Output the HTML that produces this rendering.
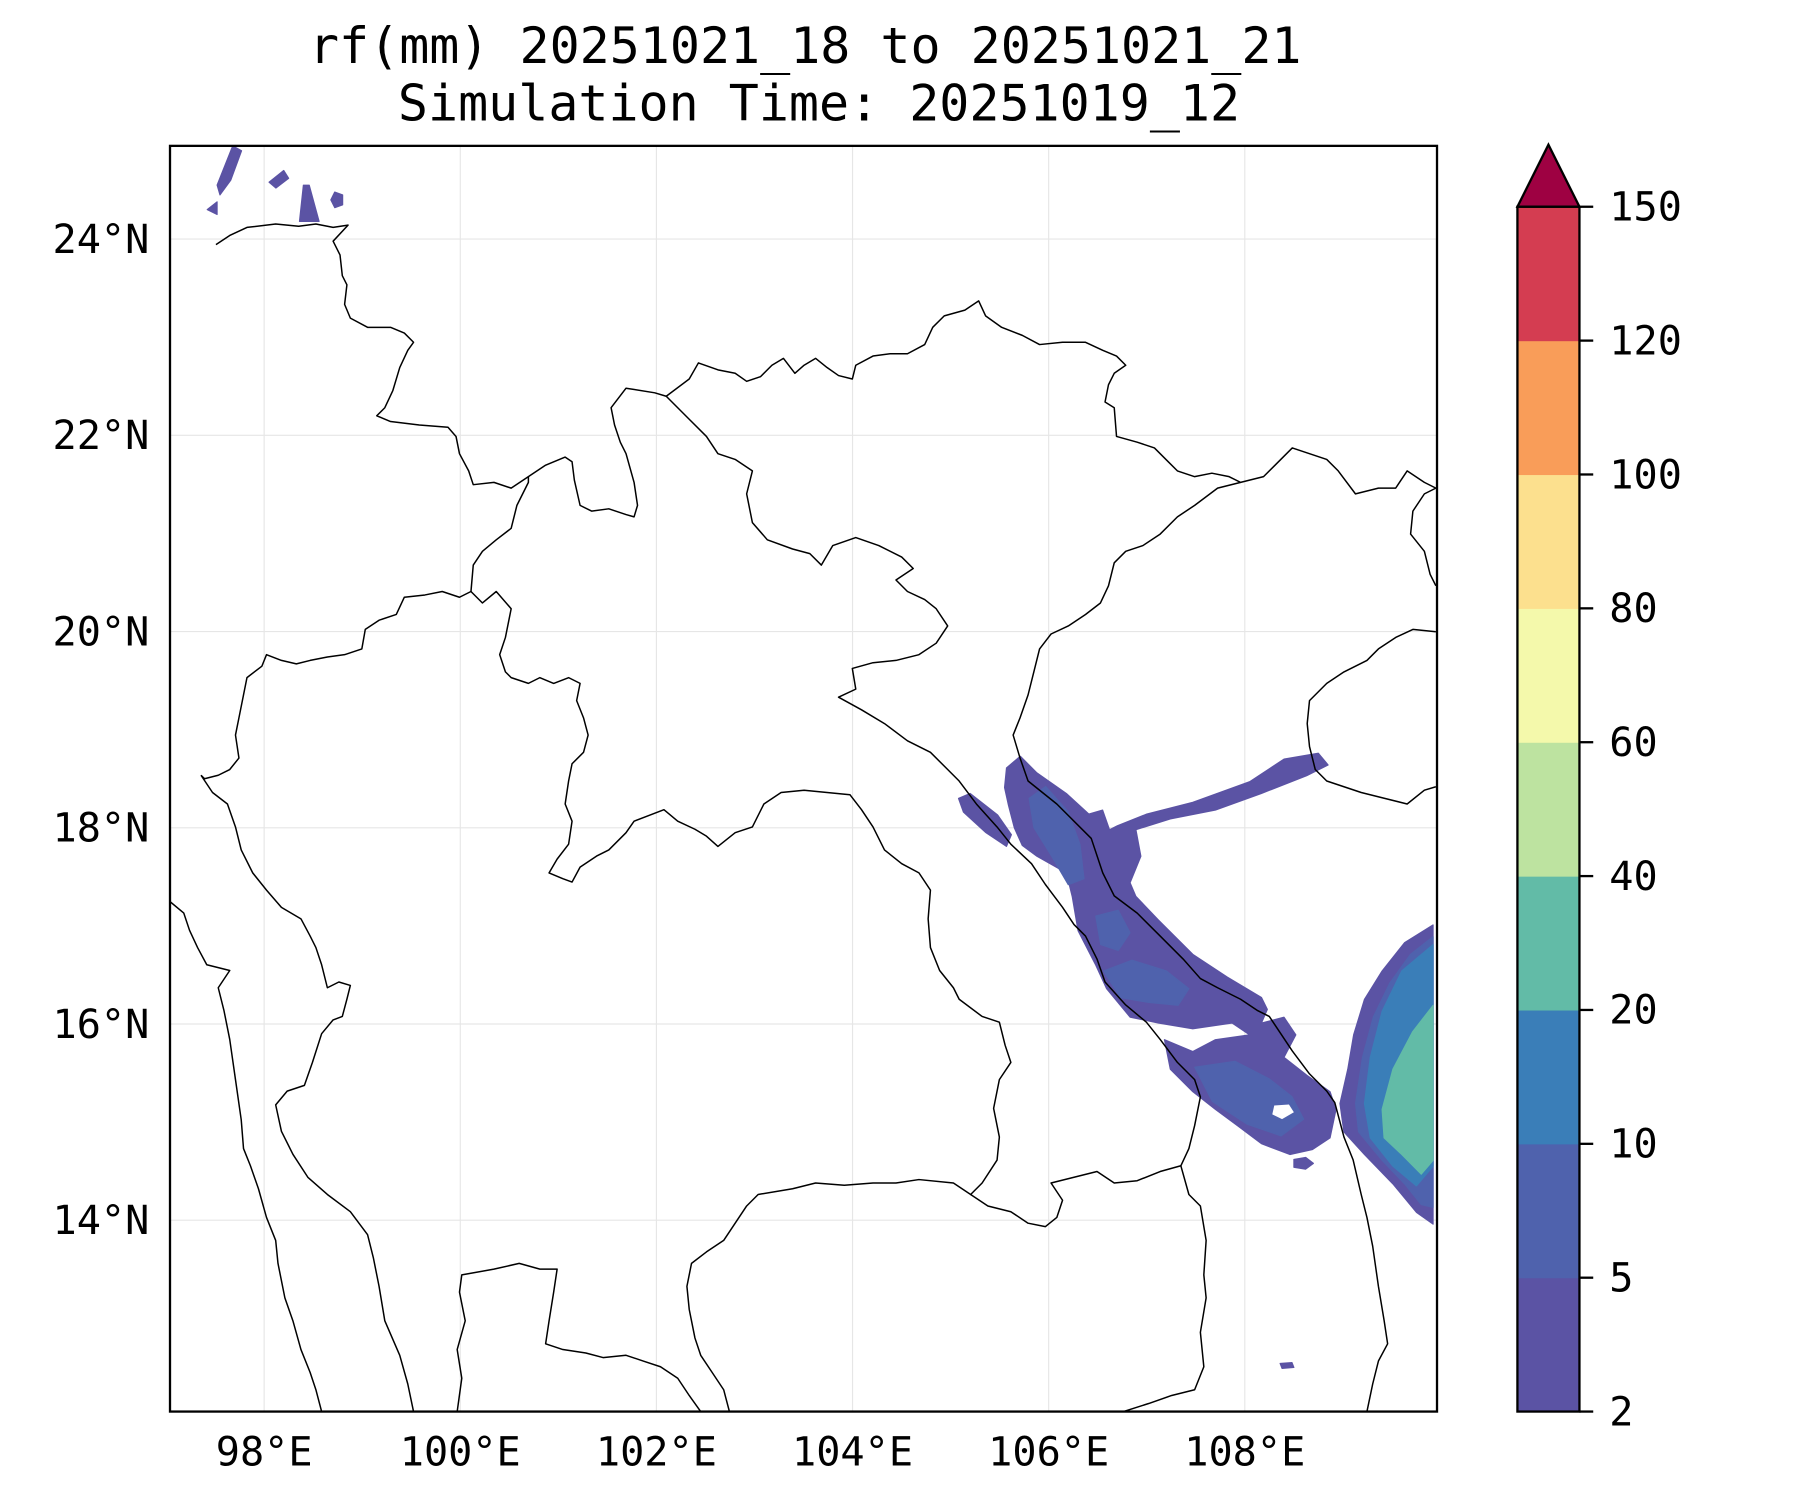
<!DOCTYPE html>
<html><head><meta charset="utf-8"><title>rf(mm)</title>
<style>html,body{margin:0;padding:0;background:#fff}svg{display:block}text{font-family:"DejaVu Sans Mono","Liberation Mono",monospace;fill:#000}</style>
</head><body>
<svg id="fig" width="1800" height="1500" viewBox="0 0 1567 1306" preserveAspectRatio="none" xmlns="http://www.w3.org/2000/svg">
<rect width="1567" height="1306" fill="#fff"/>
<text x="701" y="55" font-size="43.5" text-anchor="middle">rf(mm) 20251021_18 to 20251021_21</text>
<text x="713" y="105" font-size="43.5" text-anchor="middle">Simulation Time: 20251019_12</text>
<defs><clipPath id="mapclip"><rect x="148" y="127" width="1103" height="1102"/></clipPath></defs>
<g id="grid"></g>
<g id="rain" clip-path="url(#mapclip)"></g>
<g id="geo" clip-path="url(#mapclip)" fill="none" stroke="#000" stroke-width="1.3" stroke-linejoin="round">
<polyline points="188,213 200,205 215,198 240,195 260,197 275,195 290,198 303,196 290,210 296,222 298,240 302,248 300,265 305,277 320,285 340,285 352,290 360,298 355,305 348,320 342,340 335,355 328,362 340,367 365,370 390,372 397,380 400,395 408,410 412,422 430,420 445,425 460,415 475,405 492,398 498,402 500,418 505,440 515,445 530,443 545,448 552,450 555,440 552,420 545,395 540,385 535,370 532,355 545,338 570,342 580,345 600,330 608,316 625,322 640,325 650,332 662,328 672,318 682,312 692,325 700,318 710,312 720,320 730,327 742,330 745,318 760,310 775,308 790,308 805,300 812,285 822,275 840,270 852,262 858,275 872,285 890,292 905,300 925,298 945,298 960,305 972,310 980,318 970,325 965,335 962,350 970,355 972,380 990,385 1005,390 1015,400 1025,410 1040,415 1055,412 1070,415 1080,420 1100,415 1110,405 1125,390 1140,395 1155,400 1165,410 1180,430 1200,425 1215,425 1225,410 1240,420 1250,425"/>
<polyline points="1080,420 1060,425 1040,440 1025,450 1010,465 995,475 980,480 970,490 965,510 958,525 945,535 930,545 915,552 905,565 900,585 895,605 888,625 882,640 888,660 895,680 920,700 950,730 960,760 970,780 990,795 1010,815 1030,835 1045,852 1060,860 1080,870 1095,880 1105,885 1115,900 1125,915 1140,935 1155,950 1162,960 1170,990 1178,1010 1185,1040 1190,1060 1195,1085 1200,1120 1205,1150 1208,1170 1200,1185 1195,1205 1190,1229"/>
<polyline points="580,345 600,365 615,380 625,395 640,400 655,410 650,430 655,455 668,470 690,478 705,482 715,492 725,475 745,468 765,475 785,485 795,495 780,505 790,515 805,522 815,530 825,545 815,560 800,570 780,575 760,577 742,582 745,600 730,607 750,618 770,630 790,645 810,655 825,670 835,680 850,700 868,720 880,735 898,752 910,770 925,790 935,805 945,815 955,835 962,855 980,875 998,890 1010,905 1025,925 1040,940 1045,955 1040,980 1035,1000 1028,1015 1035,1040 1045,1050 1050,1080 1048,1110 1050,1130 1045,1160 1048,1190 1040,1210 1020,1215 1000,1222 978,1229"/>
<polyline points="460,415 460,420 450,440 445,460 432,470 420,480 412,492 410,515"/>
<polyline points="410,515 400,520 385,515 370,518 352,520 345,535 330,540 318,548 315,565 300,570 285,572 270,575 258,578 245,575 232,570 228,580 215,590 212,605 208,625 205,640 208,660 200,670 190,675 178,678 175,675"/>
<polyline points="410,515 420,525 432,515 445,530 440,555 435,570 440,585 445,590 460,595 470,590 482,595 495,590 505,595 502,610 508,625 512,640 508,655 498,665 495,680 492,700 498,715 495,735 485,748 478,760 490,765 498,768 505,755 520,745 530,740 545,725 552,715 565,710 578,705 590,715 605,722 615,728 625,737 640,725 655,720 665,700 680,690 700,688 720,690 740,692 750,705 760,720 770,740 785,752 800,760 810,775 808,800 810,825 818,845 830,860 835,870 855,885 870,890 875,910 880,925 870,940 865,965 870,990 868,1010 855,1030 845,1040 830,1030 800,1027 780,1030 760,1030 735,1032 710,1030 690,1035 660,1040 650,1050 640,1065 630,1080 615,1090 602,1100 598,1120 600,1140 605,1165 610,1180 620,1195 630,1210 635,1229"/>
<polyline points="845,1040 860,1050 880,1055 895,1065 910,1068 920,1060 925,1045 915,1030 935,1025 955,1020 970,1030 990,1028 1010,1020 1028,1015"/>
<polyline points="175,675 185,690 198,700 205,720 210,740 220,760 232,775 245,790 262,800 270,815 275,825 280,840 285,860 295,855 305,858 302,870 298,885 290,888 280,900 272,925 265,945 250,950 240,962 245,985 255,1005 268,1025 285,1040 305,1055 320,1075 325,1095 330,1120 335,1150 348,1180 355,1205 360,1229"/>
<polyline points="148,785 160,795 165,810 172,825 180,840 200,845 190,860 195,880 200,905 205,940 210,975 212,1000 218,1015 225,1035 232,1060 240,1080 242,1100 248,1130 255,1150 262,1175 270,1195 275,1210 280,1229"/>
<polyline points="398,1229 402,1200 398,1175 405,1150 400,1125 402,1110 430,1105 452,1100 470,1105 485,1105 482,1125 478,1150 475,1170 490,1175 510,1178 525,1182 545,1180 560,1185 575,1190 590,1200 600,1215 610,1229"/>
<polyline points="1250,550 1230,548 1215,555 1200,565 1190,575 1170,585 1155,595 1140,610 1138,630 1140,650 1145,670 1155,680 1170,685 1185,690 1205,695 1225,700 1240,688 1250,685"/>
<polyline points="1250,425 1240,430 1230,445 1228,465 1240,480 1245,500 1250,510"/>
</g>
<rect x="148" y="127" width="1103" height="1102" fill="none" stroke="#000" stroke-width="2"/>
<g id="axes"></g>
<g id="cbar"></g>
</svg>
<script>
const NS = "http://www.w3.org/2000/svg";
// map extent
const lonMin = 97.04, lonMax = 109.96, latMin = 12.05, latMax = 24.95;
const lonTicks = [98, 100, 102, 104, 106, 108];
const lonTickLabels = ["98°E", "100°E", "102°E", "104°E", "106°E", "108°E"];
const latTicks = [14, 16, 18, 20, 22, 24];
const latTickLabels = ["14°N", "16°N", "18°N", "20°N", "22°N", "24°N"];
// colorbar levels and colours
const levels = [2, 5, 10, 20, 40, 60, 80, 100, 120, 150];
const levelLabels = ["2", "5", "10", "20", "40", "60", "80", "100", "120", "150"];
const levelColors = ["#5b53a4", "#4f62ad", "#3a7eb8", "#62bba7", "#bde3a0", "#f4f9ab", "#fce08e", "#f99d59", "#d43d51"];
const extendColor = "#9e0142";
// rainfall contour polygons [lon, lat], with level index
const rainLevel = [0, 0, 0, 0, 0, 0, 0, 0, 0, 0, 1, 1, 1, 1, 1, 2, 3];
const rainPolys = [
 [[105.57,18.61],[105.71,18.73],[105.88,18.56],[106.18,18.35],[106.41,18.14],[106.55,18.18],[106.62,17.98],[106.70,18.02],[107.0,18.14],[107.47,18.26],[108.05,18.47],[108.40,18.70],[108.75,18.76],[108.85,18.64],[108.63,18.53],[108.17,18.35],[107.70,18.18],[107.24,18.09],[106.89,17.98],[106.94,17.71],[106.83,17.44],[106.89,17.30],[107.12,17.06],[107.47,16.71],[107.82,16.48],[108.17,16.27],[108.23,16.15],[108.17,16.01],[108.40,16.07],[108.52,15.89],[108.40,15.66],[108.63,15.48],[108.87,15.31],[108.93,15.13],[108.87,14.84],[108.69,14.72],[108.46,14.67],[108.17,14.78],[107.93,14.96],[107.70,15.13],[107.47,15.31],[107.24,15.54],[107.18,15.84],[107.47,15.72],[107.70,15.84],[108.05,15.89],[107.87,16.01],[107.47,15.95],[107.12,16.01],[106.83,16.07],[106.59,16.36],[106.48,16.60],[106.30,16.95],[106.24,17.30],[106.18,17.54],[105.88,17.71],[105.73,17.82],[105.65,18.00],[105.59,18.23],[105.55,18.41]],
 [[105.08,18.30],[105.20,18.35],[105.48,18.13],[105.62,17.93],[105.57,17.81],[105.36,17.95],[105.13,18.16]],
 [[109.92,17.01],[109.63,16.83],[109.40,16.54],[109.22,16.25],[109.11,15.89],[109.05,15.54],[108.97,15.19],[109.01,14.90],[109.22,14.67],[109.51,14.37],[109.75,14.08],[109.92,13.96]],
 [[108.50,14.62],[108.62,14.64],[108.70,14.58],[108.62,14.52],[108.50,14.54]],
 [[108.36,12.54],[108.48,12.55],[108.50,12.50],[108.38,12.49]],
 [[97.68,24.95],[97.77,24.90],[97.66,24.60],[97.55,24.45],[97.52,24.55]],
 [[98.40,24.55],[98.46,24.55],[98.56,24.18],[98.36,24.18]],
 [[98.72,24.48],[98.80,24.45],[98.80,24.35],[98.72,24.32],[98.68,24.40]],
 [[98.05,24.58],[98.20,24.70],[98.25,24.62],[98.12,24.52]],
 [[97.42,24.30],[97.52,24.38],[97.52,24.25]],
 [[105.80,18.30],[105.97,18.42],[106.20,18.16],[106.32,17.83],[106.36,17.48],[106.20,17.42],[106.03,17.71],[105.85,18.00]],
 [[106.56,16.54],[106.85,16.65],[107.20,16.54],[107.43,16.36],[107.32,16.19],[107.02,16.22],[106.73,16.27]],
 [[107.49,15.56],[107.90,15.62],[108.25,15.44],[108.48,15.26],[108.60,15.03],[108.37,14.86],[108.02,14.98],[107.67,15.21]],
 [[106.48,17.10],[106.71,17.16],[106.83,16.93],[106.71,16.75],[106.53,16.81]],
 [[109.92,16.89],[109.69,16.71],[109.48,16.42],[109.31,16.07],[109.20,15.66],[109.13,15.19],[109.16,14.90],[109.40,14.61],[109.63,14.37],[109.80,14.16],[109.92,14.13]],
 [[109.92,16.81],[109.60,16.54],[109.40,16.13],[109.28,15.66],[109.22,15.19],[109.28,14.84],[109.51,14.55],[109.75,14.35],[109.92,14.55]],
 [[109.92,16.19],[109.71,15.92],[109.51,15.54],[109.40,15.13],[109.42,14.84],[109.60,14.67],[109.80,14.47],[109.92,14.61]]
];
const rainHoles = [[[108.30,15.17],[108.45,15.18],[108.50,15.10],[108.38,15.03],[108.28,15.08]]];

// axis functions (display units)
const X0 = 148, X1 = 1251, Y0 = 127, Y1 = 1229;
function xOf(lon){ return X0 + (lon - lonMin) / (lonMax - lonMin) * (X1 - X0); }
function yOf(lat){ return Y0 + (latMax - lat) / (latMax - latMin) * (Y1 - Y0); }
const CB_L = 1321, CB_R = 1375, CB_T = 180, CB_B = 1229;
function cbY(i){ return CB_B - i / (levels.length - 1) * (CB_B - CB_T); }

function mk(tag, attrs, parent){ const e = document.createElementNS(NS, tag); for (const k in attrs) e.setAttribute(k, attrs[k]); parent.appendChild(e); return e; }

const grid = document.getElementById('grid');
lonTicks.forEach(function(v){
  const l = mk('line', {x1: xOf(v), x2: xOf(v), y1: Y0, y2: Y1, stroke: '#e6e6e6', 'stroke-width': 1}, grid);
  
  
});
latTicks.forEach(function(v){
  const l = mk('line', {x1: X0, x2: X1, y1: yOf(v), y2: yOf(v), stroke: '#e6e6e6', 'stroke-width': 1}, grid);
  
  
});

const rain = document.getElementById('rain');
rainPolys.forEach(function(poly, i){
  const pts = poly.map(function(p){ return xOf(p[0]).toFixed(1) + ',' + yOf(p[1]).toFixed(1); }).join(' ');
  const el = mk('polygon', {points: pts, fill: levelColors[rainLevel[i]], stroke: levelColors[rainLevel[i]], 'stroke-width': 1, 'stroke-linejoin': 'round'}, rain);
  
  
});
rainHoles.forEach(function(poly){
  const pts = poly.map(function(p){ return xOf(p[0]).toFixed(1) + ',' + yOf(p[1]).toFixed(1); }).join(' ');
  const el = mk('polygon', {points: pts, fill: '#fff'}, rain);
  
  
});

const axes = document.getElementById('axes');
lonTicks.forEach(function(v, i){
  const t = mk('text', {x: xOf(v), y: Y1 + 47, 'font-size': 35, 'text-anchor': 'middle'}, axes);
  t.textContent = lonTickLabels[i];
  
  
});
latTicks.forEach(function(v, i){
  const t = mk('text', {x: X0 - 18, y: yOf(v) + 12, 'font-size': 35, 'text-anchor': 'end'}, axes);
  t.textContent = latTickLabels[i];
  
  
});

const cbar = document.getElementById('cbar');
levelColors.forEach(function(c, i){
  const r = mk('rect', {x: CB_L, y: cbY(i + 1), width: CB_R - CB_L, height: cbY(i) - cbY(i + 1) + 0.5, fill: c}, cbar);
  
  
});
const tri = mk('polygon', {points: CB_L + ',' + CB_T + ' ' + CB_R + ',' + CB_T + ' ' + ((CB_L + CB_R) / 2) + ',' + (CB_T - 54), fill: extendColor, stroke: '#000', 'stroke-width': 2, 'stroke-linejoin': 'miter'}, cbar);


const fr = mk('rect', {x: CB_L, y: CB_T, width: CB_R - CB_L, height: CB_B - CB_T, fill: 'none', stroke: '#000', 'stroke-width': 2}, cbar);


levels.forEach(function(v, i){
  const tk = mk('line', {x1: CB_R, x2: CB_R + 12, y1: cbY(i), y2: cbY(i), stroke: '#000', 'stroke-width': 2}, cbar);
  
  
  const t = mk('text', {x: CB_R + 26, y: cbY(i) + 12, 'font-size': 35}, cbar);
  t.textContent = levelLabels[i];
  
  
});
</script>
</body></html>
